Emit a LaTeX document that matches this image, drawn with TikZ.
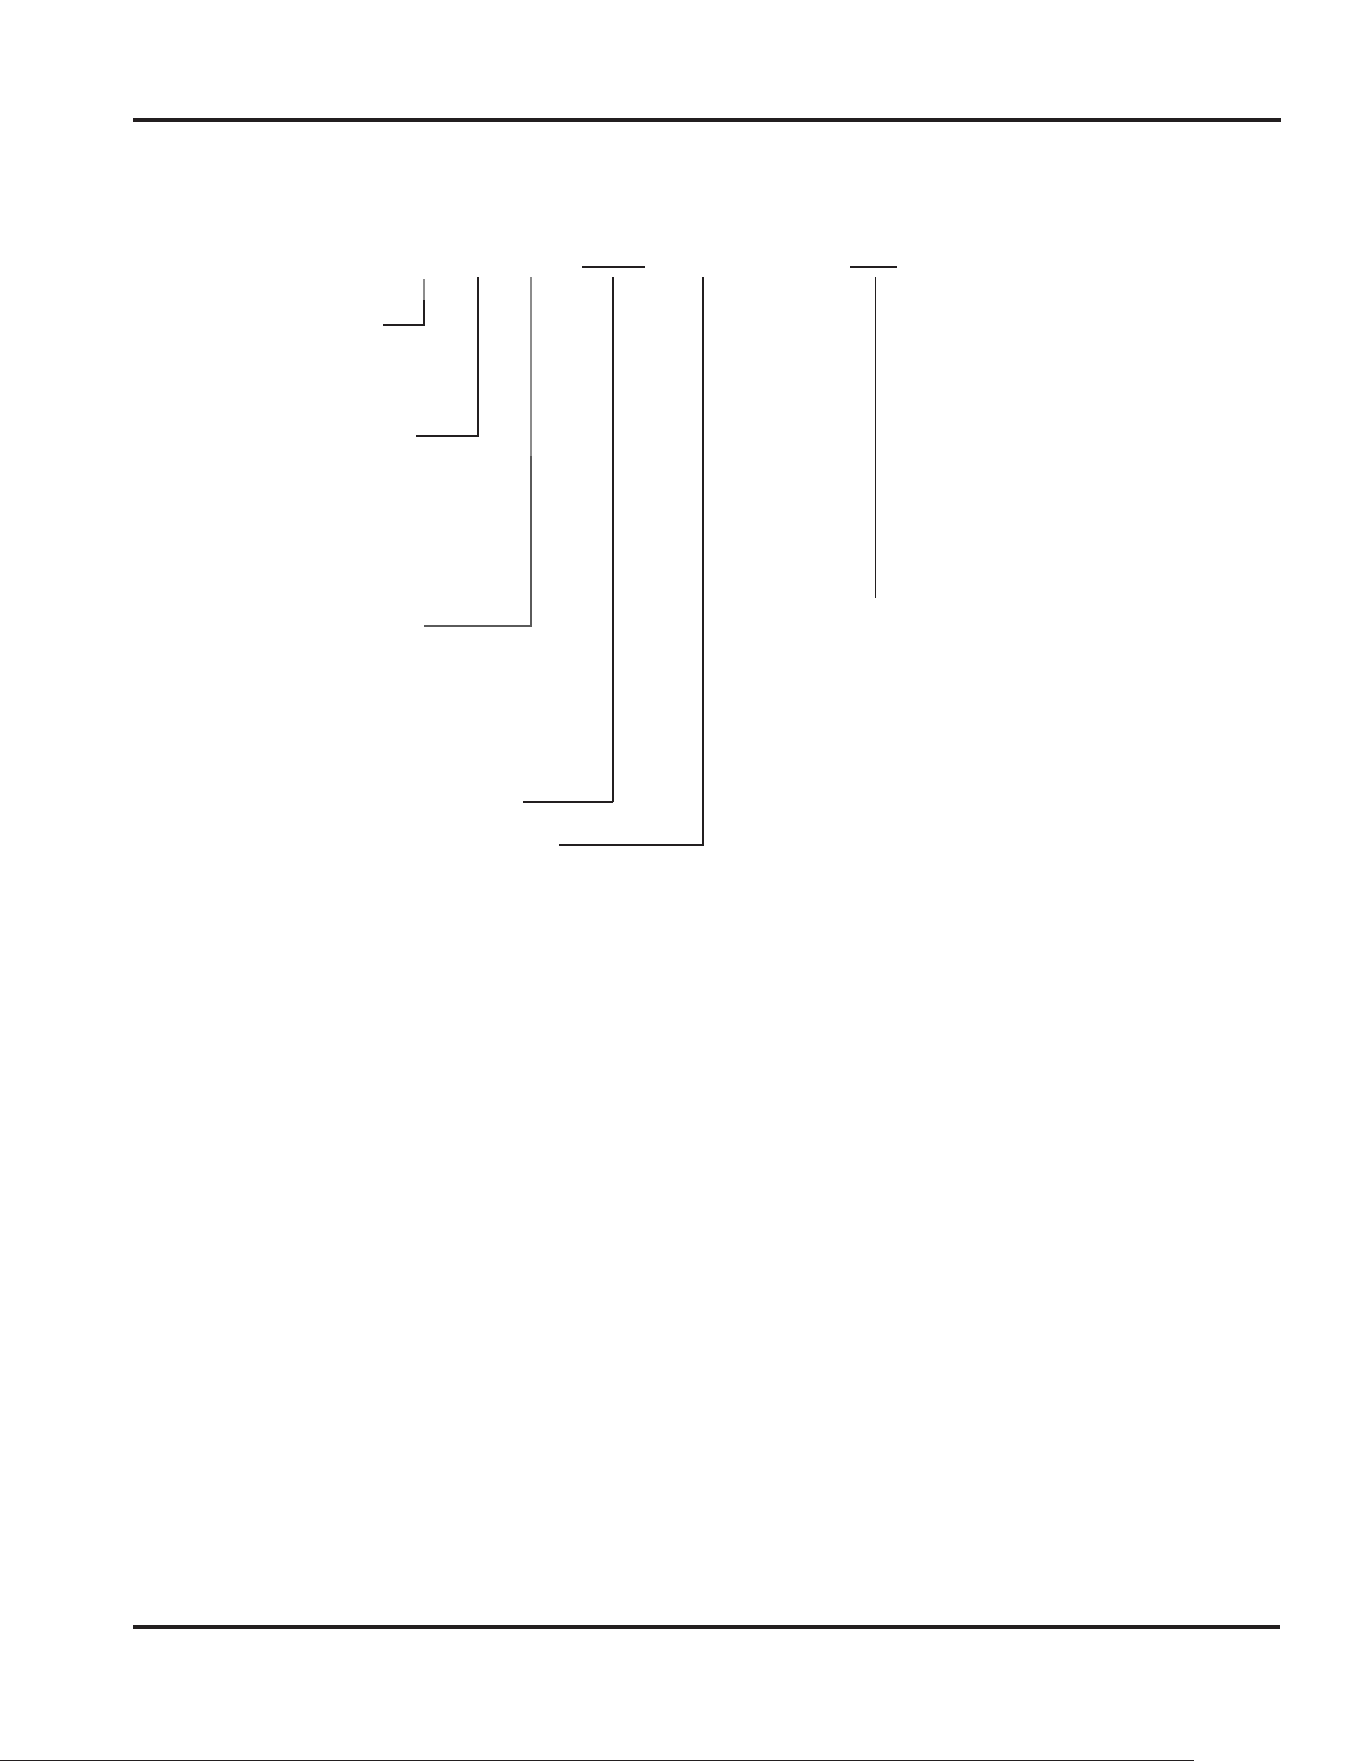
\documentclass[tikz,border=0pt]{standalone}
\usepackage{tikz}

\definecolor{ink}{HTML}{231F20}
\definecolor{inkgrey}{HTML}{5A5A5A}
\definecolor{inklight}{HTML}{8C8C8C}

\tikzset{
  rule/.style={draw=ink, line width=3.5pt},
  bar/.style={draw=ink, line width=2.5pt},
  lead/.style={draw=ink, line width=1.2pt},
}

\begin{document}
\begin{tikzpicture}[x=1pt, y=-1pt]
  \useasboundingbox (0, 0) rectangle (1361, 1761);
  \coordinate (ruletopL) at (133, 120);
  \coordinate (ruletopR) at (1281, 120);
  \coordinate (rulebotL) at (133, 1627);
  \coordinate (rulebotR) at (1280, 1627);
  \draw[rule] (ruletopL) -- (ruletopR);
  \draw[rule] (rulebotL) -- (rulebotR);
  \coordinate (edgeL) at (0, 1760);
  \coordinate (edgeR) at (1194, 1760);
  \draw[draw=ink, line width=1pt] (edgeL) -- (edgeR);

  % bars over two of the leads
  \draw[bar] (582, 267) coordinate (barAL) -- (645, 267) coordinate (barAR);
  \draw[bar] (850, 267) coordinate (barBL) -- (897, 267) coordinate (barBR);

  % leads
  \coordinate (lead1top) at (424, 279);
  \coordinate (lead1mid) at (424, 300);
  \coordinate (lead1bend) at (424, 325);
  \coordinate (lead1end) at (383, 325);
  \draw[lead, draw=inklight] (lead1top) -- (lead1mid);
  \draw[lead] (lead1mid) -- (lead1bend) -- (lead1end);

  \coordinate (lead2top) at (478, 277);
  \coordinate (lead2bend) at (478, 436);
  \coordinate (lead2end) at (416, 436);
  \draw[lead] (lead2top) -- (lead2bend) -- (lead2end);

  \coordinate (lead3top) at (531, 277);
  \coordinate (lead3mid) at (531, 456);
  \coordinate (lead3bend) at (531, 626);
  \coordinate (lead3end) at (424, 626);
  \draw[lead, draw=inklight] (lead3top) -- (lead3mid);
  \draw[lead, draw=inkgrey, line width=1.5pt] (lead3mid) -- (lead3bend) -- (lead3end);

  \coordinate (lead4top) at (613, 277);
  \coordinate (lead4bend) at (613, 802);
  \coordinate (lead4end) at (523, 802);
  \draw[lead] (lead4top) -- (lead4bend);
  \draw[lead, line width=2pt] (lead4bend) -- (lead4end);

  \coordinate (lead5top) at (703, 277);
  \coordinate (lead5bend) at (703, 845);
  \coordinate (lead5end) at (559, 845);
  \draw[lead] (lead5top) -- (lead5bend) -- (lead5end);

  \coordinate (lead6top) at (875.5, 277);
  \coordinate (lead6end) at (875.5, 598);
  \draw[lead] (lead6top) -- (lead6end);
\end{tikzpicture}
\end{document}
